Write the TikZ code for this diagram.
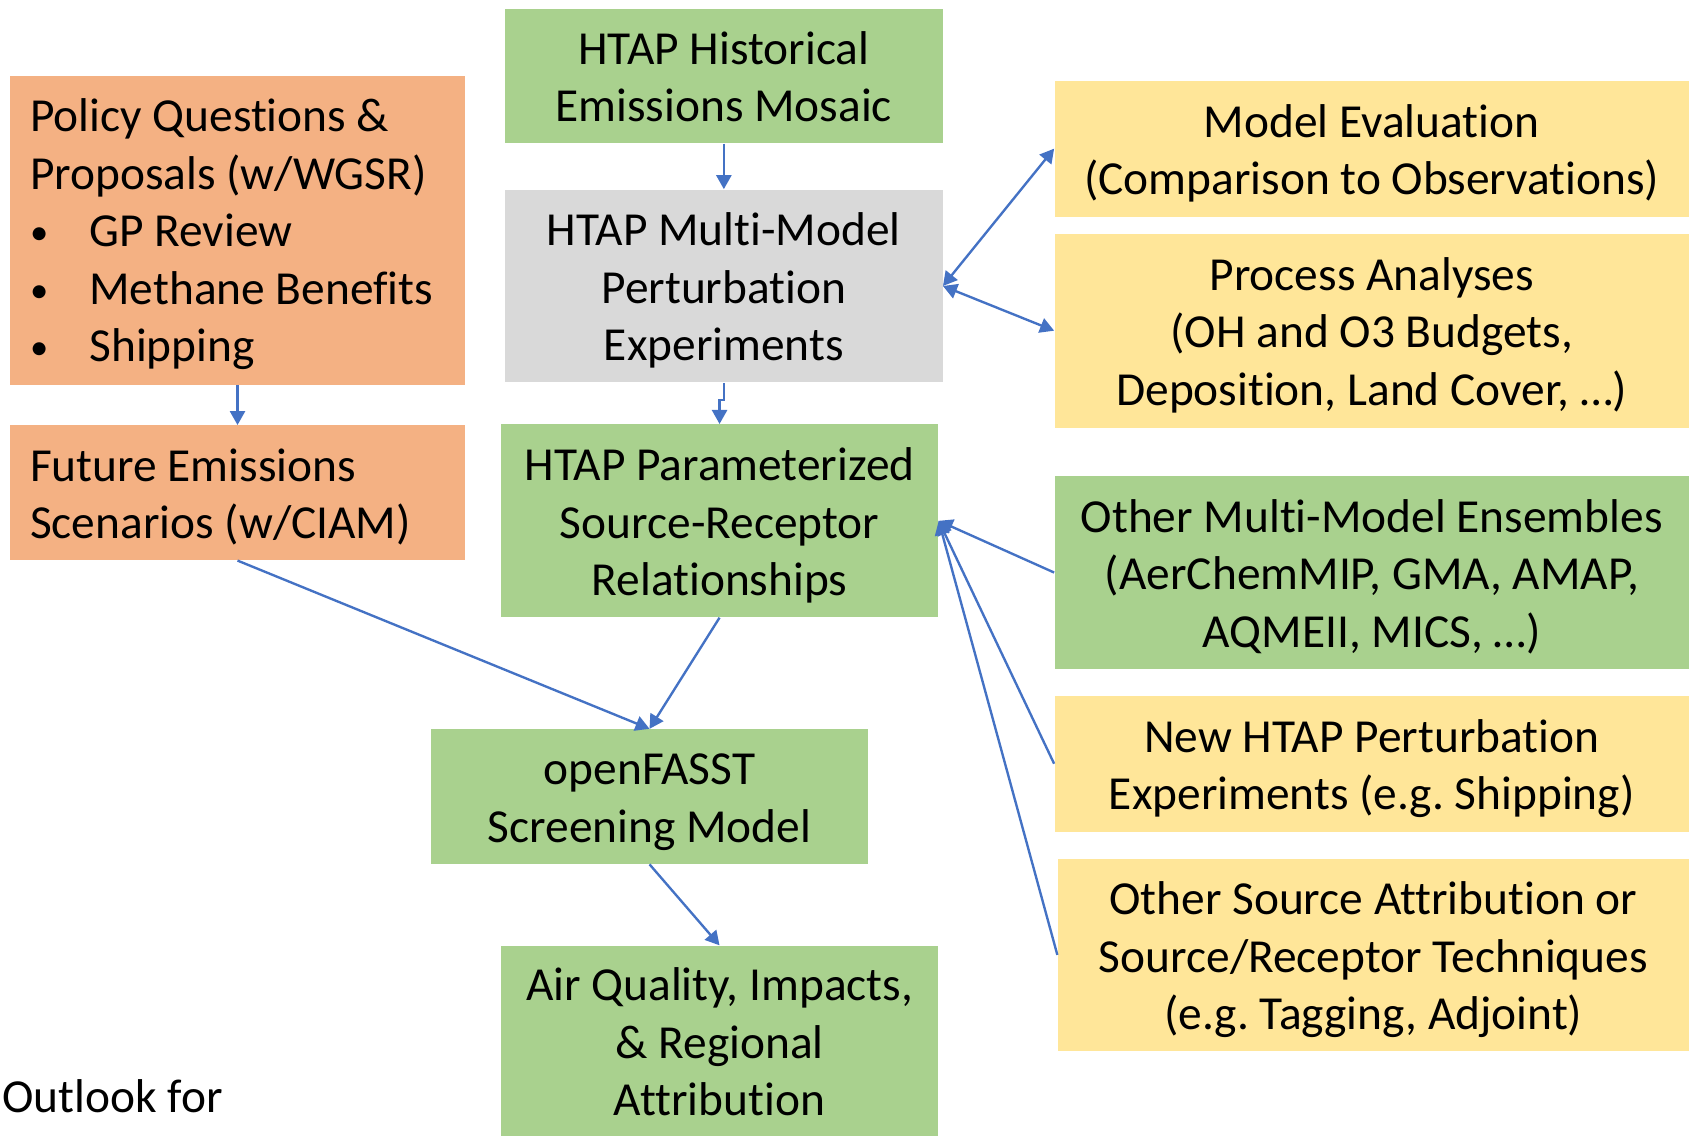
\documentclass[tikz,border=0pt]{standalone}
\usepackage{fontspec}
\setmainfont{Carlito}[Ligatures={NoCommon}]
\usetikzlibrary{arrows.meta}
\definecolor{cgreen}{HTML}{A9D18E}
\definecolor{corange}{HTML}{F4B183}
\definecolor{cgrey}{HTML}{D9D9D9}
\definecolor{cyellow}{HTML}{FFE699}
\definecolor{carrow}{HTML}{4472C4}
\newcommand{\bulitem}[1]{\makebox[27.5pt][l]{\fontsize{17}{20}\selectfont\raisebox{1pt}{•}}#1}
% multi-line text, first baseline raised by #1 above the node centre
\newcommand{\mltext}[3]{\raisebox{#1}[0pt][0pt]{\begin{tabular}[t]{@{}#2@{}}#3\end{tabular}}}
\newcommand{\twol}[1]{\mltext{5.375pt}{c}{#1}}
\newcommand{\threel}[1]{\mltext{18.75pt}{c}{#1}}
\begin{document}
\frenchspacing
\begin{tikzpicture}[x=0.5pt,y=-0.5pt,
  box/.style={rectangle, inner sep=0pt,
    font=\fontsize{22}{26.75}\selectfont\setbox\strutbox\hbox{\vrule height 18.7pt depth 8.05pt width 0pt}},
  narrow/.style={box, minimum width=203pt},
  wide/.style={box, minimum width=294.5pt},
  link/.style={draw=carrow, line width=1.1pt, -{Triangle[length=6.5pt,width=7pt]}},
  dlink/.style={draw=carrow, line width=1.1pt, {Triangle[length=6.5pt,width=7pt]}-{Triangle[length=6.5pt,width=7pt]}}]
\useasboundingbox (0,0) rectangle (1568,1055);
\node[narrow, fill=cgreen, minimum height=62.5pt] (hist) at (672,70.5) {\twol{HTAP Historical\\Emissions Mosaic}};
\node[narrow, fill=cgrey, minimum height=89.5pt] (mm) at (672,265.5) {\threel{HTAP Multi-Model\\Perturbation\\Experiments}};
\node[narrow, fill=cgreen, minimum height=89.5pt] (param) at (668,483.5) {\threel{HTAP Parameterized\\Source-Receptor\\Relationships}};
\node[narrow, fill=cgreen, minimum height=62.5pt] (fasst) at (603,739.5) {\twol{openFASST\\Screening Model}};
\node[narrow, fill=cgreen, minimum height=88.5pt] (aq) at (668,966.5) {\threel{Air Quality, Impacts,\\\& Regional\\Attribution}};
\node[box, fill=corange, minimum width=211.5pt, minimum height=143pt] (policy) at (220.5,214)
  {\makebox[192.5pt][l]{\mltext{46pt}{l}{Policy Questions \&\\Proposals (w/WGSR)\\\bulitem{GP Review}\\\bulitem{Methane Benefits}\\\bulitem{Shipping}}}};
\node[box, fill=corange, minimum width=211.5pt, minimum height=62.5pt] (future) at (220.5,457.5)
  {\makebox[192.5pt][l]{\mltext{5.375pt}{l}{Future Emissions\\Scenarios (w/CIAM)}}};
\node[wide, fill=cyellow, minimum height=63pt] (eval) at (1273.5,138) {\twol{Model Evaluation\\(Comparison to Observations)}};
\node[wide, fill=cyellow, minimum height=90pt] (proc) at (1273.5,307) {\threel{Process Analyses\\(OH and O3 Budgets,\\Deposition, Land Cover, …)}};
\node[wide, fill=cgreen, minimum height=89.5pt] (ens) at (1273.5,531.5) {\threel{Other Multi-Model Ensembles\\(AerChemMIP, GMA, AMAP,\\AQMEII, MICS, …)}};
\node[wide, fill=cyellow, minimum height=63pt] (newh) at (1273.5,709) {\twol{New HTAP Perturbation\\Experiments (e.g. Shipping)}};
\node[box, fill=cyellow, minimum width=293pt, minimum height=89.5pt] (src) at (1275,886.5) {\threel{Other Source Attribution or\\Source/Receptor Techniques\\(e.g. Tagging, Adjoint)}};
\node[anchor=west, inner sep=0pt, font=\fontsize{22}{26.75}\selectfont] (outlook) at (2,1018) {Outlook for};
\draw[link] (hist.south) -- (mm.north);
\draw[link] (policy.south) -- (future.north);
\draw[link] (mm.south) -- ++(0,16) -| (param.north);
\draw[link] (future.south) -- (fasst.north);
\draw[link] (param.south) -- (fasst.north);
\draw[link] (fasst.south) -- (aq.north);
\draw[dlink] (mm.east) -- (eval.west);
\draw[dlink] (mm.east) -- (proc.west);
\draw[link] (ens.west) -- (param.east);
\draw[link] (newh.west) -- (param.east);
\draw[link] (src.west) -- (param.east);
\end{tikzpicture}
\end{document}
